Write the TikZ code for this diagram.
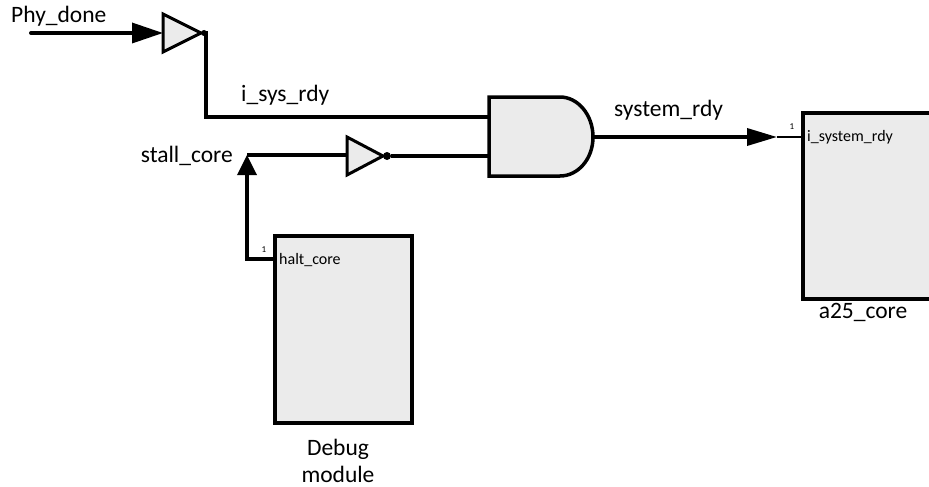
\documentclass[tikz,border=0pt]{standalone}
\usepackage{fontspec}
\setmainfont{Carlito}
\usetikzlibrary{arrows.meta}
\definecolor{gatefill}{HTML}{EBEBEB}
\tikzset{
  wire/.style={line width=3.5pt, line join=miter},
  thinwire/.style={line width=2pt},
  gate/.style={line width=3pt, fill=gatefill, line join=miter},
  block/.style={line width=3.5pt, fill=gatefill, line join=miter},
  bubble/.style={fill=black, circle, inner sep=0pt},
  biglabel/.style={inner sep=0pt, font=\fontsize{23.5}{27}\selectfont},
  portlabel/.style={inner sep=0pt, font=\fontsize{16}{18}\selectfont},
  pinnum/.style={inner sep=0pt, font=\fontsize{9}{10}\selectfont},
  bigarrow/.style={-{Triangle[length=31pt,width=20pt]}},
}
\begin{document}
\begin{tikzpicture}[x=1pt,y=-1pt]
\useasboundingbox (0,0) rectangle (929,487);
\fill[white] (0,0) rectangle (929,487);
\begin{scope}
\clip (0,0) rectangle (929,487);
% coordinates
\coordinate (phystart) at (31,33);
\coordinate (buf1in) at (163,33);
\coordinate (buf1out) at (204,33);
\coordinate (corner1) at (206,117);
\coordinate (andA) at (489,117);
\coordinate (andB) at (489,156);
\coordinate (andOut) at (593,137);
\coordinate (stalljn) at (247,155);
\coordinate (inv2in) at (347,155);
\coordinate (inv2out) at (387,156);
\coordinate (haltport) at (275,259);
\coordinate (haltcorner) at (247,259);
\coordinate (sysarrow) at (777,137);
\coordinate (sysport) at (803,137);

% blocks
\draw[block] (275,236) rectangle (412,423);
\draw[block] (803,113) rectangle (950,299);

% buffer 1 (with output dot)
\draw[gate] (163,14) -- (163,52) -- (201,33) -- cycle;
\node[bubble, minimum size=6pt] (b1) at (buf1out) {};
% inverter 2
\draw[gate] (347,137) -- (347,175) -- (383,156) -- cycle;
\node[bubble, minimum size=8pt] (b2) at (inv2out) {};
% AND gate
\draw[gate, line width=3.5pt] (489,97) -- (560,97) .. controls (578,97) and (593,115) .. (593,137)
  .. controls (593,159) and (578,176) .. (560,176) -- (489,176) -- cycle;

% wires
\fill (phystart) circle (2pt);
\draw[wire, bigarrow] (phystart) -- (buf1in);
\draw[wire] (b1.center) -- (206,33) -- (corner1) -- (andA);
\draw[wire] (b2) -- (inv2out -| andB);
\draw[wire] (stalljn) -- (inv2in);
\draw[wire, -{Triangle[length=20pt,width=19pt]}] (haltport) -- (haltcorner) -- (stalljn);
\draw[wire, -{Triangle[length=30pt,width=17pt]}] (andOut) -- (sysarrow);
\draw[thinwire] (sysarrow) -- (sysport);

% labels
\node[biglabel, anchor=base west] (lphy) at (11,23) {Phy\_done};
\node[biglabel, anchor=base west] (lisys) at (241,101) {i\_sys\_rdy};
\node[biglabel, anchor=base east] (lstall) at (233,162) {stall\_core};
\node[biglabel, anchor=base west] (lsys) at (614,116) {system\_rdy};
\node[biglabel, anchor=base] (la25) at (863,318) {a25\_core};
\node[biglabel, anchor=base] (ldbg1) at (338,455) {Debug};
\node[biglabel, anchor=base] (ldbg2) at (338,482) {module};
\node[portlabel, anchor=west] (lhalt) at (279,260) {halt\_core};
\node[portlabel, anchor=west] (lisr) at (807,137) {i\_system\_rdy};
\node[pinnum] (n1) at (264,250) {1};
\node[pinnum] (n2) at (792,127) {1};
\end{scope}
\end{tikzpicture}
\end{document}
